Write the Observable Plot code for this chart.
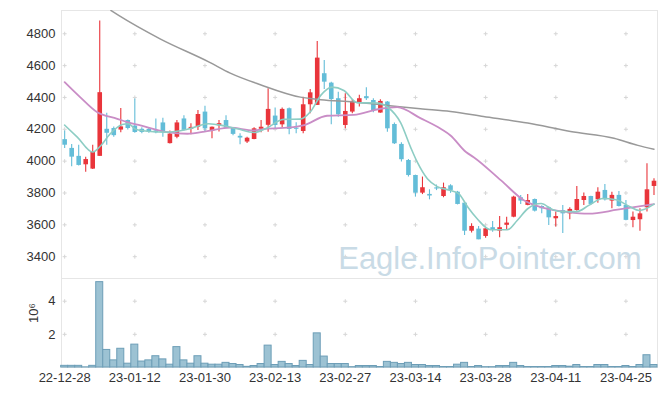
<!DOCTYPE html>
<html><head><meta charset="utf-8">
<script src="https://cdn.jsdelivr.net/npm/d3@7"></script>
<script src="https://cdn.jsdelivr.net/npm/@observablehq/plot@0.6"></script>
<style>
body{margin:0;background:#fff;}
#chart svg{display:block;}
</style></head><body><div id="chart"></div>
<script>
const dates = ["22-12-28","22-12-29",
"23-01-02","23-01-03","23-01-04","23-01-05","23-01-06","23-01-09","23-01-10","23-01-11","23-01-12","23-01-13","23-01-16","23-01-17","23-01-18","23-01-19","23-01-20","23-01-25","23-01-26","23-01-27","23-01-30","23-01-31",
"23-02-01","23-02-02","23-02-03","23-02-06","23-02-07","23-02-08","23-02-09","23-02-10","23-02-13","23-02-14","23-02-15","23-02-16","23-02-17","23-02-20","23-02-21","23-02-22","23-02-23","23-02-24","23-02-27","23-02-28",
"23-03-02","23-03-03","23-03-06","23-03-07","23-03-08","23-03-09","23-03-10","23-03-13","23-03-14","23-03-15","23-03-16","23-03-17","23-03-20","23-03-21","23-03-22","23-03-23","23-03-24","23-03-27","23-03-28","23-03-29","23-03-30","23-03-31",
"23-04-03","23-04-04","23-04-05","23-04-06","23-04-07","23-04-10","23-04-11","23-04-12","23-04-13","23-04-14","23-04-17","23-04-18","23-04-19","23-04-20","23-04-21","23-04-24","23-04-25","23-04-26","23-04-27","23-04-28",
"23-05-02"];
const open  = [4135,4080,4030,3977,3950,4030,4200,4205,4195,4255,4220,4200,4200,4190,4240,4110,4150,4265,4200,4213,4308,4188,4222,4255,4207,4156,4120,4136,4200,4225,4283,4228,4329,4207,4186,4354,4350,4549,4490,4392,4224,4308,4367,4405,4381,4302,4371,4230,4105,4004,3910,3799,3791,3832,3778,3845,3805,3736,3560,3573,3527,3582,3560,3597,3648,3770,3722,3759,3715,3707,3638,3689,3669,3690,3753,3778,3757,3816,3749,3785,3722,3627,3632,3707,3841];
const high  = [4190,4105,4100,4025,4100,4880,4300,4215,4330,4258,4390,4210,4212,4265,4270,4190,4255,4285,4235,4318,4345,4215,4255,4285,4212,4172,4150,4210,4255,4455,4333,4333,4333,4241,4402,4450,4752,4632,4495,4433,4423,4385,4413,4461,4392,4385,4375,4240,4115,4010,3912,3900,3820,3850,3862,3852,3810,3740,3607,3590,3580,3621,3652,3648,3780,3785,3791,3762,3720,3712,3680,3722,3707,3841,3800,3780,3833,3854,3805,3810,3753,3680,3701,3984,3889];
const low   = [4080,3965,3970,3930,3948,4030,4100,4150,4178,4195,4175,4172,4175,4172,4150,4108,4140,4190,4165,4193,4183,4140,4183,4205,4160,4103,4110,4135,4178,4182,4203,4210,4166,4172,4172,4298,4350,4450,4228,4276,4203,4298,4340,4381,4304,4300,4182,4105,3995,3900,3774,3790,3757,3815,3770,3798,3725,3533,3548,3506,3515,3554,3519,3565,3645,3728,3720,3680,3670,3596,3586,3545,3632,3686,3722,3722,3736,3750,3701,3712,3625,3582,3560,3680,3785];
const close = [4100,4025,3973,4010,4060,4430,4175,4160,4215,4205,4180,4180,4180,4178,4178,4170,4240,4193,4212,4293,4203,4213,4235,4207,4168,4145,4144,4203,4213,4325,4224,4325,4199,4200,4354,4429,4647,4496,4387,4291,4312,4375,4392,4392,4318,4375,4203,4109,4009,3910,3799,3833,3781,3825,3833,3816,3728,3560,3590,3506,3575,3566,3582,3611,3774,3749,3753,3686,3701,3644,3652,3669,3697,3759,3778,3728,3805,3757,3785,3715,3628,3648,3669,3820,3874];
const volume = [0.10,0.10,0.10,0.01,0.10,5.15,1.06,0.43,1.13,0.23,1.38,0.36,0.43,0.68,0.49,0.17,1.23,0.43,0.23,0.68,0.23,0.17,0.17,0.28,0.21,0.15,0.04,0.09,0.21,1.32,0.15,0.34,0.21,0.09,0.40,0.15,2.06,0.66,0.21,0.21,0.21,0.02,0.09,0.09,0.09,0.03,0.34,0.28,0.21,0.28,0.15,0.15,0.09,0.09,0.03,0.03,0.17,0.28,0.03,0.09,0.02,0.02,0.09,0.09,0.28,0.09,0.03,0.03,0.03,0.03,0.09,0.09,0.05,0.15,0.03,0.03,0.15,0.15,0.03,0.03,0.09,0.03,0.15,0.74,0.15];

// moving-average lines (position index, value)
const maShortIdx = [0,1.8,4,5.1,6.5,8.2,9.1,10.1,12.2,14.5,17.5,20.5,22.7,24.6,27,28.6,31.2,33.6,35,36.5,38.1,39.8,41.7,44.6,46,47.9,49.3,50.3,51.7,53.1,55,56.2,57.4,58.8,60.7,63.1,64.5,66,67.9,69.6,71,73,74.7,76.7,78.6,80.5,81.9,84];
const maShortVal = [4226,4151,4057,4095,4172,4230,4235,4200,4186,4182,4200,4235,4222,4203,4180,4203,4262,4264,4308,4413,4465,4444,4367,4365,4340,4240,4088,3990,3889,3840,3816,3795,3715,3638,3569,3569,3627,3701,3734,3695,3683,3683,3722,3765,3757,3715,3690,3730];
const maMidIdx = [0,2.2,4.6,7.5,8.9,10.8,14.6,17.5,20.3,23.6,26.9,28.6,32.6,34,37.4,41.2,45,47.4,50.7,53.6,55,57.2,58.3,62.2,65.5,68.4,71.7,74.7,78.8,84];
const maMidVal = [4496,4402,4308,4266,4245,4224,4182,4172,4188,4210,4193,4203,4213,4224,4285,4290,4329,4339,4270,4203,4161,4057,4025,3879,3753,3705,3680,3670,3695,3730];
const maLongIdx = [6.6,7.7,13.6,20.6,23.6,27.9,33.6,36.5,41.2,46,50.7,55,59.7,66,72.1,78.3,81.7,84];
const maLongVal = [4946,4915,4768,4622,4553,4480,4402,4386,4371,4350,4329,4312,4281,4239,4186,4144,4099,4075];

const tickIdx = [0,10,20,30,40,50,60,70,80];
const priceTicks = [3400,3600,3800,4000,4200,4400,4600,4800];
const volTicks = [2,4];
const watermark = "Eagle.InfoPointer.com";
const volLabel = "10⁶";

const candles = dates.map((d,i)=>({i, d, o:open[i], h:high[i], l:low[i], c:close[i], v:volume[i]}));
const up = candles.filter(d=>d.c>=d.o), down = candles.filter(d=>d.c<d.o);
const toPts = (I,V)=>I.map((x,k)=>({x, y:V[k]}));
const RED="#e9353b", BLUE="#63bdd8";
const font = "'Liberation Sans', Arial, sans-serif";
const xDom = [-0.45, 84.5];
const grid1 = tickIdx.flatMap(x=>priceTicks.map(y=>({x,y})));
const grid2 = tickIdx.flatMap(x=>volTicks.map(y=>({x,y})));

const topPlot = Plot.plot({
  width:665, height:278, marginLeft:61, marginRight:8, marginTop:10, marginBottom:0,
  style:{fontFamily:font, fontSize:"13px", color:"#333", background:"#fff", overflow:"visible"},
  x:{type:"linear", domain:xDom, axis:null},
  y:{domain:[3263,4946], ticks:priceTicks, tickSize:0, tickPadding:6, label:null, tickFormat:d=>String(d)},
  marks:[
    Plot.frame({stroke:"#e6e6e6"}),
    Plot.dot(grid1,{x:"x",y:"y",symbol:"plus",r:1.4,stroke:"#d6d6d6",strokeWidth:1}),
    Plot.text([watermark],{frameAnchor:"bottom-right",textAnchor:"end",lineAnchor:"bottom",dx:-16,dy:-10,fontSize:31,fill:"#c9dbe6",fontFamily:"'Liberation Sans', Arial, sans-serif"}),
    Plot.ruleX(up,{x:"i",y1:"l",y2:"h",stroke:RED,strokeWidth:1.1}),
    Plot.ruleX(down,{x:"i",y1:"l",y2:"h",stroke:BLUE,strokeWidth:1.1}),
    Plot.ruleX(up,{x:"i",y1:"o",y2:"c",stroke:RED,strokeWidth:4.6}),
    Plot.ruleX(down,{x:"i",y1:"o",y2:"c",stroke:BLUE,strokeWidth:4.6}),
    Plot.line(toPts(maLongIdx,maLongVal),{x:"x",y:"y",stroke:"#999",strokeWidth:1.5,curve:"monotone-x",clip:true}),
    Plot.line(toPts(maMidIdx,maMidVal),{x:"x",y:"y",stroke:"#c98dc6",strokeWidth:1.8,curve:"monotone-x",clip:true}),
    Plot.line(toPts(maShortIdx,maShortVal),{x:"x",y:"y",stroke:"#8dcdc4",strokeWidth:1.6,curve:"monotone-x",clip:true})
  ]
});

const botPlot = Plot.plot({
  width:665, height:118, marginLeft:61, marginRight:8, marginTop:0, marginBottom:29,
  style:{fontFamily:font, fontSize:"13px", color:"#333", background:"#fff", overflow:"visible"},
  x:{type:"linear", domain:xDom, ticks:tickIdx, tickFormat:i=>dates[i], tickSize:0, tickPadding:5, label:null},
  y:{domain:[0,5.37], ticks:volTicks, tickSize:0, tickPadding:6, label:null, tickFormat:d=>String(d)},
  marks:[
    Plot.frame({stroke:"#e6e6e6"}),
    Plot.dot(grid2,{x:"x",y:"y",symbol:"plus",r:1.4,stroke:"#d6d6d6",strokeWidth:1}),
    Plot.rectY(candles,{x1:d=>d.i-0.5,x2:d=>d.i+0.5,y:"v",fill:"#9cc2d3",stroke:"#6d9eb7",strokeWidth:1}),
    Plot.text([volLabel],{frameAnchor:"left",rotate:-90,dx:-28,fontSize:13,fill:"#333"})
  ]
});

const root = document.getElementById("chart");
root.appendChild(topPlot);
root.appendChild(botPlot);
</script></body></html>
